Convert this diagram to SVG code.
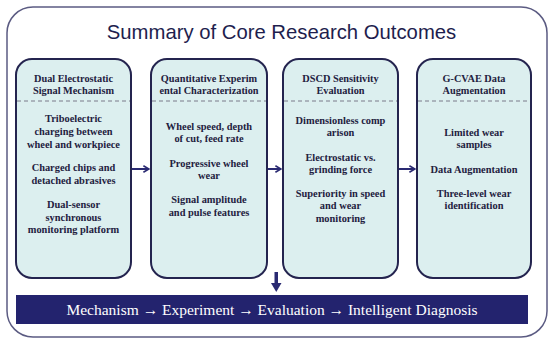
<svg xmlns="http://www.w3.org/2000/svg" width="550" height="345" viewBox="0 0 550 345">
<defs>
<style>
.frame{fill:#ffffff;stroke:#5b5b82;stroke-width:1.5}
.box{fill:#dcefef;stroke:#24244f;stroke-width:2}
.dash{stroke:#7a7a8a;stroke-width:1;stroke-dasharray:4,3}
.hd{font-family:'Liberation Serif','DejaVu Serif',serif;font-weight:bold;font-size:10.3px;fill:#1f2140;text-anchor:middle}
.bd{font-family:'Liberation Serif','DejaVu Serif',serif;font-weight:bold;font-size:10.4px;fill:#1f2140;text-anchor:middle}
.bar{font-family:'Liberation Serif','DejaVu Serif',serif;font-size:15.5px;fill:#ffffff;text-anchor:middle}
.title{font-family:'Liberation Sans',Arial,sans-serif;font-size:20.3px;fill:#1e1e4e;text-anchor:middle}
.conn{stroke:#2a2a72;stroke-width:2;fill:none}
</style>
<marker id="chev" viewBox="0 0 10 10" refX="9" refY="5" markerWidth="8" markerHeight="8" markerUnits="userSpaceOnUse" orient="auto">
<path d="M2,1 L9,5 L2,9" fill="none" stroke="#2a2a72" stroke-width="2"/>
</marker>
</defs>
<rect x="0" y="0" width="550" height="345" fill="#ffffff"/>
<rect class="frame" x="7" y="7" width="540" height="330" rx="26" ry="26"/>
<text class="title" x="281.5" y="39">Summary of Core Research Outcomes</text>

<g id="node1">
<rect class="box" x="16" y="59" width="115" height="219" rx="16" ry="16"/>
<line class="dash" x1="17" y1="101" x2="130" y2="101"/>
<text class="hd" x="73.5" y="82">Dual Electrostatic</text>
<text class="hd" x="73.5" y="94">Signal Mechanism</text>
<text class="bd" x="73.5" y="122">Triboelectric</text>
<text class="bd" x="73.5" y="135">charging between</text>
<text class="bd" x="73.5" y="148">wheel and workpiece</text>
<text class="bd" x="73.5" y="171">Charged chips and</text>
<text class="bd" x="73.5" y="184">detached abrasives</text>
<text class="bd" x="73.5" y="208">Dual-sensor</text>
<text class="bd" x="73.5" y="221">synchronous</text>
<text class="bd" x="73.5" y="233">monitoring platform</text>
</g>

<g id="node2">
<rect class="box" x="151" y="59" width="116" height="219" rx="16" ry="16"/>
<line class="dash" x1="152" y1="101" x2="266" y2="101"/>
<text class="hd" x="209" y="82">Quantitative Experim</text>
<text class="hd" x="209" y="94">ental Characterization</text>
<text class="bd" x="209" y="130">Wheel speed, depth</text>
<text class="bd" x="209" y="142">of cut, feed rate</text>
<text class="bd" x="209" y="167">Progressive wheel</text>
<text class="bd" x="209" y="179">wear</text>
<text class="bd" x="209" y="203">Signal amplitude</text>
<text class="bd" x="209" y="216">and pulse features</text>
</g>

<g id="node3">
<rect class="box" x="283" y="59" width="115" height="219" rx="16" ry="16"/>
<line class="dash" x1="284" y1="101" x2="397" y2="101"/>
<text class="hd" x="340.5" y="82">DSCD Sensitivity</text>
<text class="hd" x="340.5" y="94">Evaluation</text>
<text class="bd" x="340.5" y="124">Dimensionless comp</text>
<text class="bd" x="340.5" y="136">arison</text>
<text class="bd" x="340.5" y="161">Electrostatic vs.</text>
<text class="bd" x="340.5" y="173">grinding force</text>
<text class="bd" x="340.5" y="197">Superiority in speed</text>
<text class="bd" x="340.5" y="209">and wear</text>
<text class="bd" x="340.5" y="222">monitoring</text>
</g>

<g id="node4">
<rect class="box" x="417" y="59" width="114" height="219" rx="16" ry="16"/>
<line class="dash" x1="418" y1="101" x2="530" y2="101"/>
<text class="hd" x="474" y="82">G-CVAE Data</text>
<text class="hd" x="474" y="94">Augmentation</text>
<text class="bd" x="474" y="136">Limited wear</text>
<text class="bd" x="474" y="148">samples</text>
<text class="bd" x="474" y="173">Data Augmentation</text>
<text class="bd" x="474" y="197">Three-level wear</text>
<text class="bd" x="474" y="209">identification</text>
</g>

<g id="connectors">
<line class="conn" x1="132" y1="169" x2="149" y2="169" marker-end="url(#chev)"/>
<line class="conn" x1="268" y1="169" x2="281" y2="169" marker-end="url(#chev)"/>
<line class="conn" x1="399" y1="169" x2="415" y2="169" marker-end="url(#chev)"/>
<rect x="274.5" y="272" width="3.5" height="12" fill="#2a2a72"/>
<path d="M271,283 L281.5,283 L276.25,292 Z" fill="#2a2a72"/>
</g>

<g id="summary">
<rect x="16" y="295" width="512" height="29" fill="#23236e"/>
<text class="bar" x="272" y="315">Mechanism → Experiment → Evaluation → Intelligent Diagnosis</text>
</g>
</svg>
